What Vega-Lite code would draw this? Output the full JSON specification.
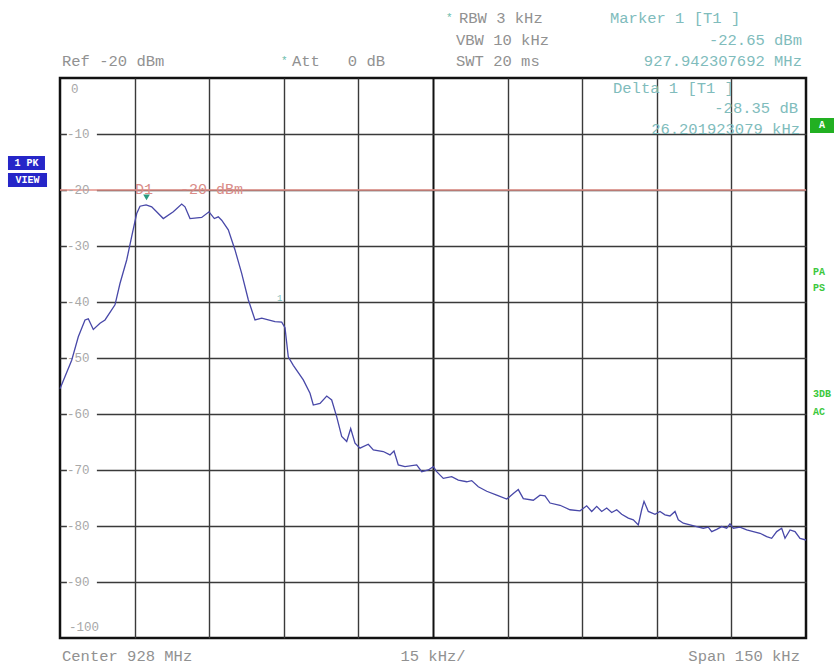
{
"$schema": "https://vega.github.io/schema/vega-lite/v6.json",
"width": 746, "height": 560,
"autosize": {"type": "none"},
"padding": {"left": 60, "top": 78, "right": 28, "bottom": 28},
"background": "white",
"config": {"view": {"stroke": "#111", "strokeWidth": 2.5}, "text": {"font": "Liberation Mono"}},
"data": {"values": [{}]},
"datasets": {
"trace": [
{"f":-75.0,"dbm":-55.5},{"f":-72.65,"dbm":-50.4},{"f":-71.32,"dbm":-46.2},{"f":-69.97,"dbm":-43.2},{"f":-69.31,"dbm":-43.0},{"f":-68.3,"dbm":-44.9},{"f":-66.96,"dbm":-43.8},{"f":-65.95,"dbm":-43.2},{"f":-63.94,"dbm":-40.5},{"f":-62.94,"dbm":-36.7},{"f":-61.59,"dbm":-32.5},{"f":-60.58,"dbm":-28.3},{"f":-59.58,"dbm":-24.2},{"f":-58.91,"dbm":-22.9},{"f":-57.69,"dbm":-22.65},{"f":-56.56,"dbm":-23.0},{"f":-54.23,"dbm":-25.1},{"f":-52.22,"dbm":-23.9},{"f":-50.53,"dbm":-22.5},{"f":-49.87,"dbm":-23.0},{"f":-48.86,"dbm":-25.1},{"f":-46.51,"dbm":-24.9},{"f":-45.04,"dbm":-23.9},{"f":-43.97,"dbm":-25.1},{"f":-43.17,"dbm":-24.8},{"f":-42.49,"dbm":-25.4},{"f":-41.16,"dbm":-27.1},{"f":-39.81,"dbm":-30.7},{"f":-38.47,"dbm":-34.9},{"f":-37.14,"dbm":-39.6},{"f":-35.79,"dbm":-43.2},{"f":-34.44,"dbm":-42.9},{"f":-33.12,"dbm":-43.2},{"f":-31.77,"dbm":-43.5},{"f":-30.42,"dbm":-43.6},{"f":-29.76,"dbm":-44.6},{"f":-29.1,"dbm":-49.8},{"f":-28.09,"dbm":-51.3},{"f":-26.08,"dbm":-53.9},{"f":-24.73,"dbm":-56.3},{"f":-24.07,"dbm":-58.4},{"f":-22.72,"dbm":-58.1},{"f":-21.37,"dbm":-56.8},{"f":-20.37,"dbm":-57.5},{"f":-19.36,"dbm":-60.5},{"f":-18.36,"dbm":-64.0},{"f":-17.35,"dbm":-64.9},{"f":-16.55,"dbm":-62.6},{"f":-15.68,"dbm":-65.2},{"f":-14.68,"dbm":-66.1},{"f":-13.01,"dbm":-65.4},{"f":-12.0,"dbm":-66.4},{"f":-9.99,"dbm":-66.7},{"f":-8.65,"dbm":-67.3},{"f":-7.84,"dbm":-66.6},{"f":-6.98,"dbm":-69.1},{"f":-5.63,"dbm":-69.4},{"f":-3.28,"dbm":-69.1},{"f":-2.27,"dbm":-70.3},{"f":-0.94,"dbm":-70.0},{"f":0.06,"dbm":-69.4},{"f":0.74,"dbm":-70.3},{"f":2.07,"dbm":-71.5},{"f":3.76,"dbm":-71.2},{"f":5.09,"dbm":-71.8},{"f":6.77,"dbm":-72.1},{"f":7.78,"dbm":-71.9},{"f":9.11,"dbm":-73.0},{"f":10.8,"dbm":-73.8},{"f":12.81,"dbm":-74.5},{"f":14.82,"dbm":-75.2},{"f":16.15,"dbm":-74.2},{"f":17.15,"dbm":-73.5},{"f":18.16,"dbm":-75.1},{"f":20.17,"dbm":-75.4},{"f":21.51,"dbm":-74.5},{"f":22.52,"dbm":-74.6},{"f":23.53,"dbm":-75.9},{"f":25.54,"dbm":-76.3},{"f":27.55,"dbm":-77.1},{"f":29.56,"dbm":-77.3},{"f":30.9,"dbm":-76.4},{"f":31.91,"dbm":-77.4},{"f":32.92,"dbm":-76.5},{"f":33.92,"dbm":-77.4},{"f":34.93,"dbm":-76.8},{"f":35.93,"dbm":-77.6},{"f":36.94,"dbm":-77.1},{"f":37.94,"dbm":-77.9},{"f":39.27,"dbm":-78.6},{"f":40.28,"dbm":-78.9},{"f":41.28,"dbm":-79.8},{"f":41.96,"dbm":-77.1},{"f":42.43,"dbm":-75.6},{"f":43.29,"dbm":-77.4},{"f":44.64,"dbm":-77.9},{"f":45.64,"dbm":-77.4},{"f":46.65,"dbm":-78.0},{"f":47.65,"dbm":-78.2},{"f":48.66,"dbm":-77.4},{"f":49.32,"dbm":-78.9},{"f":50.33,"dbm":-79.5},{"f":51.67,"dbm":-79.8},{"f":53.02,"dbm":-80.1},{"f":54.35,"dbm":-80.4},{"f":55.35,"dbm":-80.2},{"f":56.04,"dbm":-81.0},{"f":57.04,"dbm":-80.6},{"f":58.05,"dbm":-80.1},{"f":59.05,"dbm":-80.4},{"f":59.72,"dbm":-79.6},{"f":60.38,"dbm":-80.4},{"f":61.73,"dbm":-80.2},{"f":63.08,"dbm":-80.7},{"f":64.4,"dbm":-81.0},{"f":65.75,"dbm":-81.3},{"f":67.1,"dbm":-81.9},{"f":68.1,"dbm":-82.2},{"f":69.11,"dbm":-81.0},{"f":70.11,"dbm":-80.4},{"f":70.78,"dbm":-82.2},{"f":71.79,"dbm":-80.7},{"f":72.79,"dbm":-81.0},{"f":73.8,"dbm":-82.2},{"f":75.0,"dbm":-82.5}
],
"ylabels": [
{"v":0,"t":"0"},{"v":-10,"t":"-10"},{"v":-20,"t":"-20"},{"v":-30,"t":"-30"},{"v":-40,"t":"-40"},{"v":-50,"t":"-50"},{"v":-60,"t":"-60"},{"v":-70,"t":"-70"},{"v":-80,"t":"-80"},{"v":-90,"t":"-90"},{"v":-100,"t":"-100"}
]
},
"layer": [
{
"data": {"name": "ylabels"},
"transform": [{"filter": "datum.v < 0 && datum.v > -100"}],
"mark": {"type": "point", "shape": "M-1,-0.35L1,-0.35L1,0.35L-1,0.35Z", "filled": true, "color": "white", "opacity": 1, "size": 900},
"encoding": {
"x": {"datum": -70.6, "scale": {"domain": [-75, 75], "nice": false, "zero": false},
"axis": {"values": [-60,-45,-30,-15,0,15,30,45,60], "title": null, "labels": false, "ticks": false, "domain": false, "grid": true,
"gridColor": {"condition": {"test": "datum.value === 0", "value": "#111"}, "value": "#3a3a3a"},
"gridWidth": {"condition": {"test": "datum.value === 0", "value": 2}, "value": 1.4}}},
"y": {"field": "v", "type": "quantitative", "scale": {"domain": [-100, 0], "nice": false, "zero": false},
"axis": {"values": [-10,-20,-30,-40,-50,-60,-70,-80,-90], "title": null, "labels": false, "ticks": false, "domain": false, "grid": true, "gridColor": "#3a3a3a", "gridWidth": 1.4}}
}
},
{
"mark": {"type": "rule", "color": "#e39088", "strokeWidth": 1.6},
"encoding": {"y": {"datum": -20}}
},
{
"data": {"name": "ylabels"},
"transform": [{"filter": "datum.v < 0 && datum.v > -100"}],
"mark": {"type": "text", "align": "left", "baseline": "middle", "fontSize": 12.5, "color": "#a8a8a8"},
"encoding": {"x": {"datum": -73.6}, "y": {"field": "v", "type": "quantitative"}, "text": {"field": "t"}}
},
{
"data": {"name": "ylabels"},
"transform": [{"filter": "datum.v == 0"}],
"mark": {"type": "text", "align": "left", "baseline": "top", "dy": 5, "fontSize": 12.5, "color": "#a8a8a8"},
"encoding": {"x": {"datum": -72.8}, "y": {"field": "v", "type": "quantitative"}, "text": {"field": "t"}}
},
{
"data": {"name": "ylabels"},
"transform": [{"filter": "datum.v == -100"}],
"mark": {"type": "text", "align": "left", "baseline": "bottom", "dy": -4, "fontSize": 12.5, "color": "#a8a8a8"},
"encoding": {"x": {"datum": -73.2}, "y": {"field": "v", "type": "quantitative"}, "text": {"field": "t"}}
},
{
"mark": {"type": "text", "align": "left", "baseline": "middle", "fontSize": 15, "color": "#d98c88"},
"encoding": {"x": {"datum": -59.9}, "y": {"datum": -19.8}, "text": {"value": "D1\u00a0\u00a0 -20 dBm"}}
},
{
"data": {"name": "trace"},
"mark": {"type": "line", "color": "#4848a8", "strokeWidth": 1.3},
"encoding": {"x": {"field": "f", "type": "quantitative"}, "y": {"field": "dbm", "type": "quantitative"}}
},
{
"mark": {"type": "point", "shape": "triangle-down", "filled": true, "color": "#2a9a80", "opacity": 1, "size": 45},
"encoding": {"x": {"datum": -57.6}, "y": {"datum": -21.3}}
},
{
"mark": {"type": "text", "align": "center", "baseline": "middle", "fontSize": 9, "color": "#7fc0c0"},
"encoding": {"x": {"datum": -30.8}, "y": {"datum": -39.3}, "text": {"value": "1"}}
},
{
"mark": {"type": "text", "align": "left", "baseline": "middle", "fontSize": 15.5, "color": "#919191"},
"encoding": {"x": {"datum": -74.6}, "y": {"datum": 3.04}, "text": {"value": "Ref -20 dBm"}}
},
{
"mark": {"type": "text", "align": "left", "baseline": "middle", "fontSize": 11, "color": "#6cbcaa"},
"encoding": {"x": {"datum": -30.56}, "y": {"datum": 3.04}, "text": {"value": "*"}}
},
{
"mark": {"type": "text", "align": "left", "baseline": "middle", "fontSize": 15.5, "color": "#919191"},
"encoding": {"x": {"datum": -28.35}, "y": {"datum": 3.04}, "text": {"value": "Att\u00a0\u00a0 0 dB"}}
},
{
"mark": {"type": "text", "align": "left", "baseline": "middle", "fontSize": 11, "color": "#6cbcaa"},
"encoding": {"x": {"datum": 2.61}, "y": {"datum": 10.71}, "text": {"value": "*"}}
},
{
"mark": {"type": "text", "align": "left", "baseline": "middle", "fontSize": 15.5, "color": "#919191"},
"encoding": {"x": {"datum": 5.23}, "y": {"datum": 10.71}, "text": {"value": "RBW 3 kHz"}}
},
{
"mark": {"type": "text", "align": "left", "baseline": "middle", "fontSize": 15.5, "color": "#919191"},
"encoding": {"x": {"datum": 4.62}, "y": {"datum": 6.79}, "text": {"value": "VBW 10 kHz"}}
},
{
"mark": {"type": "text", "align": "left", "baseline": "middle", "fontSize": 15.5, "color": "#919191"},
"encoding": {"x": {"datum": 4.62}, "y": {"datum": 3.04}, "text": {"value": "SWT 20 ms"}}
},
{
"mark": {"type": "text", "align": "left", "baseline": "middle", "fontSize": 15.5, "color": "#80bcbc"},
"encoding": {"x": {"datum": 35.59}, "y": {"datum": 10.71}, "text": {"value": "Marker 1 [T1 ]"}}
},
{
"mark": {"type": "text", "align": "right", "baseline": "middle", "fontSize": 15.5, "color": "#80bcbc"},
"encoding": {"x": {"datum": 74.19}, "y": {"datum": 6.79}, "text": {"value": "-22.65 dBm"}}
},
{
"mark": {"type": "text", "align": "right", "baseline": "middle", "fontSize": 15.5, "color": "#80bcbc"},
"encoding": {"x": {"datum": 74.19}, "y": {"datum": 3.04}, "text": {"value": "927.942307692 MHz"}}
},
{
"mark": {"type": "text", "align": "left", "baseline": "middle", "fontSize": 15.5, "color": "#80bcbc"},
"encoding": {"x": {"datum": 36.19}, "y": {"datum": -1.79}, "text": {"value": "Delta 1 [T1 ]"}}
},
{
"mark": {"type": "text", "align": "right", "baseline": "middle", "fontSize": 15.5, "color": "#80bcbc"},
"encoding": {"x": {"datum": 73.39}, "y": {"datum": -5.36}, "text": {"value": "-28.35 dB"}}
},
{
"mark": {"type": "text", "align": "right", "baseline": "middle", "fontSize": 15.5, "color": "#80bcbc"},
"encoding": {"x": {"datum": 73.79}, "y": {"datum": -9.11}, "text": {"value": "26.201923079 kHz"}}
},
{
"mark": {"type": "text", "align": "left", "baseline": "middle", "fontSize": 15.5, "color": "#919191"},
"encoding": {"x": {"datum": -74.6}, "y": {"datum": -103.2}, "text": {"value": "Center 928 MHz"}}
},
{
"mark": {"type": "text", "align": "center", "baseline": "middle", "fontSize": 15.5, "color": "#919191"},
"encoding": {"x": {"datum": 0}, "y": {"datum": -103.2}, "text": {"value": "15 kHz/"}}
},
{
"mark": {"type": "text", "align": "right", "baseline": "middle", "fontSize": 15.5, "color": "#919191"},
"encoding": {"x": {"datum": 73.79}, "y": {"datum": -103.2}, "text": {"value": "Span 150 kHz"}}
},
{
"mark": {"type": "rect", "color": "#2626c8"},
"encoding": {"x": {"datum": -85.46}, "x2": {"datum": -78.02}, "y": {"datum": -13.93}, "y2": {"datum": -16.43}}
},
{
"mark": {"type": "rect", "color": "#2626c8"},
"encoding": {"x": {"datum": -85.46}, "x2": {"datum": -77.61}, "y": {"datum": -16.96}, "y2": {"datum": -19.46}}
},
{
"mark": {"type": "text", "align": "center", "baseline": "middle", "fontSize": 10, "fontWeight": "bold", "color": "white"},
"encoding": {"x": {"datum": -81.74}, "y": {"datum": -15.18}, "text": {"value": "1 PK"}}
},
{
"mark": {"type": "text", "align": "center", "baseline": "middle", "fontSize": 10, "fontWeight": "bold", "color": "white"},
"encoding": {"x": {"datum": -81.53}, "y": {"datum": -18.21}, "text": {"value": "VIEW"}}
},
{
"mark": {"type": "rect", "color": "#22b022"},
"encoding": {"x": {"datum": 75.8}, "x2": {"datum": 80.63}, "y": {"datum": -7.14}, "y2": {"datum": -9.82}}
},
{
"mark": {"type": "text", "align": "center", "baseline": "middle", "fontSize": 10, "fontWeight": "bold", "color": "white"},
"encoding": {"x": {"datum": 78.2}, "y": {"datum": -8.48}, "text": {"value": "A"}}
},
{
"mark": {"type": "text", "align": "left", "baseline": "middle", "fontSize": 10, "fontWeight": "bold", "color": "#3cc83c"},
"encoding": {"x": {"datum": 76.4}, "y": {"datum": -34.64}, "text": {"value": "PA"}}
},
{
"mark": {"type": "text", "align": "left", "baseline": "middle", "fontSize": 10, "fontWeight": "bold", "color": "#3cc83c"},
"encoding": {"x": {"datum": 76.4}, "y": {"datum": -37.5}, "text": {"value": "PS"}}
},
{
"mark": {"type": "text", "align": "left", "baseline": "middle", "fontSize": 10, "fontWeight": "bold", "color": "#3cc83c"},
"encoding": {"x": {"datum": 76.4}, "y": {"datum": -56.43}, "text": {"value": "3DB"}}
},
{
"mark": {"type": "text", "align": "left", "baseline": "middle", "fontSize": 10, "fontWeight": "bold", "color": "#3cc83c"},
"encoding": {"x": {"datum": 76.4}, "y": {"datum": -59.64}, "text": {"value": "AC"}}
}
]
}
